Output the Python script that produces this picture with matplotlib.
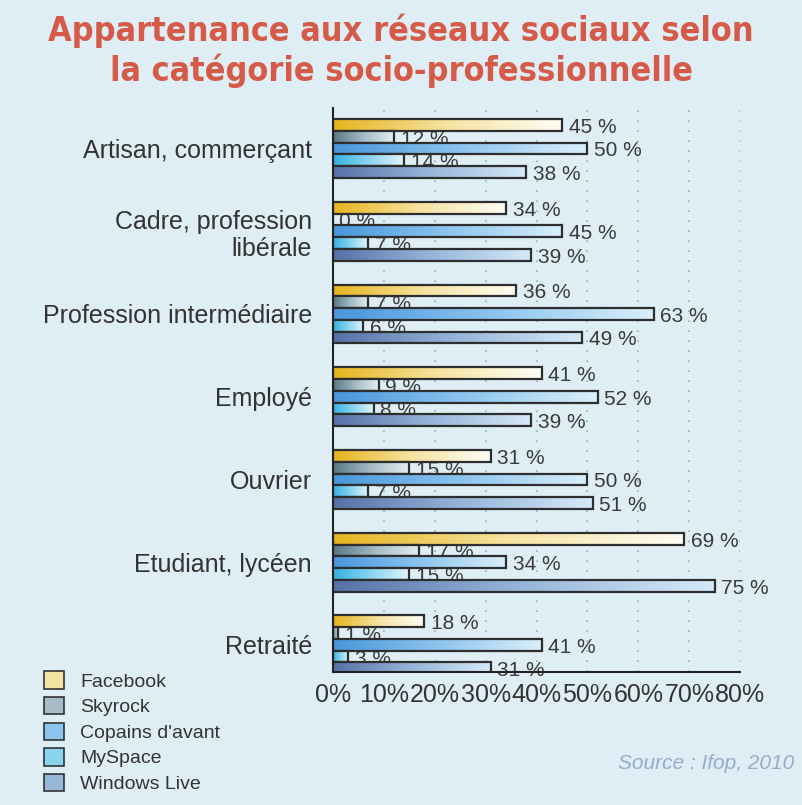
import numpy as np
import matplotlib
matplotlib.use("Agg")
import matplotlib.pyplot as plt
from matplotlib.colors import LinearSegmentedColormap
from matplotlib.patches import Patch

categories = ["Artisan, commerçant", "Cadre, profession\nlibérale",
              "Profession intermédiaire", "Employé", "Ouvrier",
              "Etudiant, lycéen", "Retraité"]
series = ["Facebook", "Skyrock", "Copains d'avant", "MySpace", "Windows Live"]
facebook = [45, 34, 36, 41, 31, 69, 18]
skyrock = [12, 0, 7, 9, 15, 17, 1]
copains = [50, 45, 63, 52, 50, 34, 41]
myspace = [14, 7, 6, 8, 7, 15, 3]
windows_live = [38, 39, 49, 39, 51, 75, 31]
xticks = [0, 10, 20, 30, 40, 50, 60, 70, 80]

plt.rcParams['font.family'] = ['Liberation Sans', 'DejaVu Sans']

bg = '#dfeef5'
# dégradés gauche -> droite pour chaque réseau
grads = [
    ['#e6b41e', '#f6e3a0', '#fefdf6'],
    ['#587886', '#a6bcc6', '#e6eff3'],
    ['#4896dc', '#8cc4ee', '#daeffa'],
    ['#34b2e2', '#8ad4f0', '#e2f5fb'],
    ['#5472a6', '#96b6da', '#d6e9f8'],
]
values = [facebook, skyrock, copains, myspace, windows_live]

fig = plt.figure(figsize=(8.02, 8.05), dpi=100, facecolor=bg)
ax = fig.add_axes([0.415, 0.165, 0.508, 0.701])
ax.set_facecolor(bg)

step = 0.142
h = 0.142
ramp = np.linspace(0, 1, 256).reshape(1, -1)
for j, vals in enumerate(values):
    cmap = LinearSegmentedColormap.from_list(series[j], grads[j])
    for i, v in enumerate(vals):
        y = i + (j - 2) * step
        ax.text(v + 1.3, y + 0.03, f"{v} %", va='center', ha='left',
                fontsize=15, color='#3a3a3a', zorder=1)
        if v > 0:
            ax.imshow(ramp, extent=(0, v, y + h / 2, y - h / 2), aspect='auto',
                      cmap=cmap, zorder=2 + j * 0.1, interpolation='bilinear')
        ax.barh(y, v, height=h, left=0, fill=False, edgecolor='#2e2e2e',
                linewidth=1.6, zorder=2.05 + j * 0.1)

ax.set_xlim(0, 80)
ax.set_ylim(6.33, -0.49)
ax.set_xticks(xticks)
ax.set_xticklabels([f"{t}%" for t in xticks], fontsize=18, color='#333333')
ax.set_yticks(range(len(categories)))
ax.set_yticklabels(categories, fontsize=18, color='#333333')
ax.tick_params(axis='both', length=0)
ax.tick_params(axis='x', pad=8)
ax.tick_params(axis='y', pad=15)
for lab in ax.get_yticklabels():
    lab.set_multialignment('right')
ax.xaxis.grid(True, linestyle=(0, (1, 5)), color='#8fb0c8', linewidth=1.2)
ax.set_axisbelow(True)
for s in ['top', 'right']:
    ax.spines[s].set_visible(False)
for s in ['left', 'bottom']:
    ax.spines[s].set_color('#222222')
    ax.spines[s].set_linewidth(1.5)

fig.text(0.5, 0.937, "Appartenance aux réseaux sociaux selon\nla catégorie socio-professionnelle",
         ha='center', va='center', fontsize=24.5, fontweight='bold', color='#d65a48',
         family='DejaVu Sans', stretch='condensed', linespacing=1.22)

handles = [Patch(facecolor=g[1], edgecolor='#333333', linewidth=1.2) for g in grads]
fig.legend(handles, series, loc='upper left', bbox_to_anchor=(0.055, 0.166),
           frameon=False, fontsize=14, handlelength=1.0, handleheight=1.0,
           labelspacing=0.32, handletextpad=0.85, borderpad=0, borderaxespad=0,
           labelcolor='#333333')

fig.text(0.99, 0.052, "Source : Ifop, 2010", ha='right', va='center', fontsize=15,
         style='italic', color='#98abc8')

fig.savefig("out.png", dpi=100, facecolor=bg)
